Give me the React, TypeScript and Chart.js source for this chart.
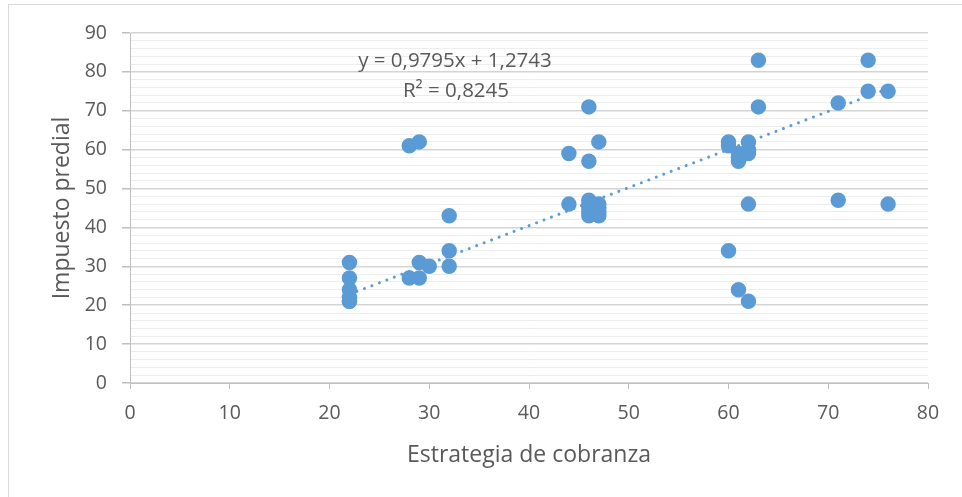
import React, { useEffect, useRef } from "react";
import { Chart, registerables } from "chart.js";

Chart.register(...registerables);

const strategyX = [22, 22, 22, 22, 22, 22, 28, 28, 29, 29, 29, 30, 32, 32, 32, 44, 44, 46, 46, 46, 46, 46, 46, 46, 47, 47, 47, 47, 47, 60, 60, 60, 61, 61, 61, 61, 62, 62, 62, 62, 62, 63, 63, 71, 71, 74, 74, 76, 76];
const taxY = [31, 27, 24, 21, 22, 21, 61, 27, 62, 31, 27, 30, 43, 34, 30, 59, 46, 71, 57, 47, 46, 45, 44, 43, 62, 46, 45, 44, 43, 62, 61, 34, 59, 58, 57, 24, 62, 60, 59, 46, 21, 83, 71, 72, 47, 83, 75, 75, 46];

const trendX = [22, 76];
const trendY = [22.82, 75.72];

const equationText = "y = 0,9795x + 1,2743";
const r2Text = "R² = 0,8245";
const xTitle = "Estrategia de cobranza";
const yTitle = "Impuesto predial";

const FONT = "'Open Sans', 'Noto Sans', sans-serif";
const TEXT = "#595959";
const BLUE = "#5B9BD5";

export default function App() {
  const ref = useRef<HTMLCanvasElement | null>(null);
  useEffect(() => {
    if (!ref.current) return;
    const textPlugin = {
      id: "eqText",
      afterDatasetsDraw(chart: any) {
        const { ctx, chartArea } = chart;
        ctx.save();
        ctx.fillStyle = TEXT;
        ctx.font = `20.5px ${FONT}`;
        ctx.textAlign = "center";
        ctx.textBaseline = "middle";
        ctx.fillText(equationText, chartArea.left + 325, chartArea.top + 28);
        ctx.fillText(r2Text, chartArea.left + 326, chartArea.top + 58);
        ctx.restore();
      },
    };
    const chart = new Chart(ref.current, {
      type: "scatter",
      data: {
        datasets: [
          {
            type: "line",
            data: trendX.map((x, i) => ({ x, y: trendY[i] })),
            borderColor: BLUE,
            borderWidth: 3,
            borderDash: [0.01, 8],
            borderCapStyle: "round",
            pointRadius: 0,
            fill: false,
            order: 0,
          } as any,
          {
            data: strategyX.map((x, i) => ({ x, y: taxY[i] })),
            backgroundColor: BLUE,
            borderColor: BLUE,
            borderWidth: 1.5,
            pointRadius: 7,
            order: 1,
          },
        ],
      },
      options: {
        animation: false,
        responsive: true,
        maintainAspectRatio: false,
        layout: { padding: { left: 40, right: 34, top: 33, bottom: 20 } },
        plugins: { legend: { display: false }, tooltip: { enabled: false } },
        scales: {
          x: {
            type: "linear",
            min: 0,
            max: 80,
            afterFit: (s: any) => { s.height = 94; },
            ticks: { stepSize: 10, color: TEXT, font: { family: FONT, size: 19.5 }, padding: 13 },
            grid: { drawOnChartArea: false, drawTicks: true, tickLength: 6, color: "#bfbfbf" },
            border: { color: "#bfbfbf" },
            title: { display: true, text: xTitle, color: TEXT, font: { family: FONT, size: 23 }, padding: { top: 0, bottom: 8.2 } },
          },
          y: {
            type: "linear",
            min: 0,
            max: 90,
            afterFit: (s: any) => { s.width = 90; },
            ticks: {
              stepSize: 2,
              autoSkip: false,
              color: TEXT,
              font: { family: FONT, size: 19.5 },
              padding: 15,
              callback: (v: any) => (Number(v) % 10 === 0 ? String(v) : ""),
            },
            grid: {
              tickLength: 8,
              color: (c: any) => (c.tick && c.tick.value % 10 === 0 ? "#d4d4d4" : "#ededed"),
              lineWidth: (c: any) => (c.tick && c.tick.value % 10 === 0 ? 1.5 : 1),
              tickColor: (c: any) => (c.tick && c.tick.value % 10 === 0 ? "#bfbfbf" : "rgba(0,0,0,0)"),
            },
            border: { color: "#bfbfbf" },
            title: { display: true, text: yTitle, color: TEXT, font: { family: FONT, size: 23 }, padding: { top: 8.2, bottom: 0 } },
          },
        },
      },
      plugins: [textPlugin],
    });
    return () => chart.destroy();
  }, []);
  return (
    <div style={{ position: "fixed", left: 0, top: 0, width: 962, height: 497, overflow: "hidden", background: "#fff" }}>
      <div style={{ position: "absolute", left: 8, top: 4, width: 1000, height: 600, border: "1px solid #d9d9d9" }} />
      <div style={{ position: "absolute", left: 0, top: 0, width: 962, height: 497 }}>
        <canvas ref={ref} />
      </div>
    </div>
  );
}
